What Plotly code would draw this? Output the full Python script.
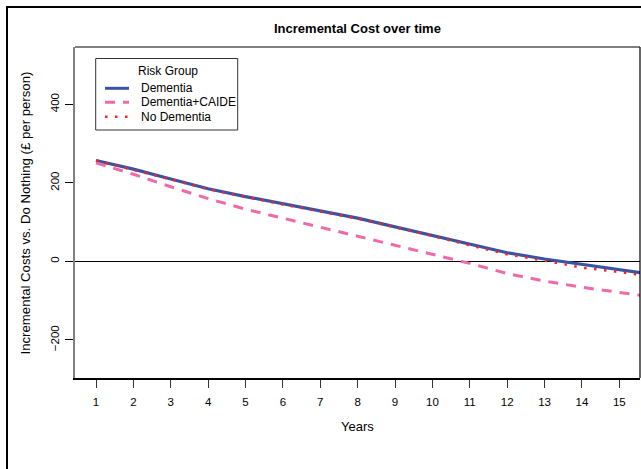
import plotly.graph_objects as go

# ---- data ----
years = [1, 2, 3, 4, 5, 6, 7, 8, 9, 10, 11, 12, 13, 14, 15, 16]
dementia = [257, 235, 210, 185, 165, 146, 128, 110, 88, 66, 43, 22, 6, -8, -20, -35]
dementia_caide = [251, 222, 190, 160, 133, 110, 86, 63, 40, 18, -5, -31, -50, -66, -78, -92]
no_dementia = [257, 234, 209, 184, 164, 145, 127, 109, 87, 65, 41, 18, 2, -16, -27, -40]
x_ticks = list(range(1, 16))
y_ticks = [-200, 0, 200, 400]

series_names = ["Dementia", "Dementia+CAIDE", "No Dementia"]
colors = ["#3a54a4", "#f06aaa", "#ff2020"]

FONT = "Liberation Sans, Arial, Helvetica, sans-serif"

# layout geometry (pixels)
W, H = 641, 469
L, R, T, B = 75, 640, 47, 378


def px(x):
    return (x - L) / (R - L)


def py(y):
    return (B - y) / (B - T)


fig = go.Figure()
fig.add_trace(go.Scatter(x=years, y=dementia, mode="lines", name=series_names[0],
                         line=dict(color=colors[0], width=3.2), showlegend=False))
fig.add_trace(go.Scatter(x=years, y=dementia_caide, mode="lines", name=series_names[1],
                         line=dict(color=colors[1], width=3, dash="10px,8px"), showlegend=False))
fig.add_trace(go.Scatter(x=years, y=no_dementia, mode="lines", name=series_names[2],
                         line=dict(color=colors[2], width=2.5, dash="2.5px,7.5px"), showlegend=False))

shapes = []
# outer figure border
shapes.append(dict(type="rect", xref="paper", yref="paper",
                   x0=px(7), x1=px(650), y0=py(480), y1=py(7),
                   line=dict(color="black", width=2), layer="above"))
# top (grey) and right (black) frame edges
shapes.append(dict(type="line", xref="paper", yref="paper", x0=0, x1=1, y0=1, y1=1,
                   line=dict(color="#808080", width=2)))
shapes.append(dict(type="line", xref="paper", yref="paper", x0=1, x1=1, y0=0, y1=1,
                   line=dict(color="black", width=1.2)))
# legend box
shapes.append(dict(type="rect", xref="paper", yref="paper",
                   x0=px(95.7), x1=px(237.7), y0=py(130), y1=py(58.5),
                   line=dict(color="#333333", width=1), fillcolor="white", layer="above"))
leg_y = [88.3, 102.3, 116.7]
leg_dash = ["solid", "10px,8px", "2.5px,7.5px"]
leg_w = [3, 3, 2.5]
annotations = []
for i in range(3):
    shapes.append(dict(type="line", xref="paper", yref="paper",
                       x0=px(105), x1=px(129), y0=py(leg_y[i]), y1=py(leg_y[i]),
                       line=dict(color=colors[i], width=leg_w[i], dash=leg_dash[i]),
                       layer="above"))
    annotations.append(dict(text=series_names[i], xref="paper", yref="paper",
                            x=px(139), y=py(leg_y[i]), xanchor="left", yanchor="middle",
                            showarrow=False, font=dict(family=FONT, size=12, color="black")))
annotations.append(dict(text="Risk Group", xref="paper", yref="paper",
                        x=px(168), y=py(70.7), xanchor="center", yanchor="middle",
                        showarrow=False, font=dict(family=FONT, size=12, color="black")))
# titles
annotations.append(dict(text="<b>Incremental Cost over time</b>", xref="paper", yref="paper",
                        x=px(357.5), y=py(28.3), xanchor="center", yanchor="middle",
                        showarrow=False, font=dict(family=FONT, size=13, color="black")))
annotations.append(dict(text="Years", xref="paper", yref="paper",
                        x=px(357.5), y=py(426.5), xanchor="center", yanchor="middle",
                        showarrow=False, font=dict(family=FONT, size=13, color="black")))
annotations.append(dict(text="Incremental Costs vs. Do Nothing (£ per person)",
                        xref="paper", yref="paper", textangle=-90,
                        x=px(24.5), y=py(213), xanchor="center", yanchor="middle",
                        showarrow=False, font=dict(family=FONT, size=13.2, color="black")))

fig.update_layout(
    width=W, height=H,
    margin=dict(l=L, r=W - R, t=T, b=H - B, pad=0),
    paper_bgcolor="white", plot_bgcolor="white",
    shapes=shapes, annotations=annotations,
    font=dict(family=FONT, size=12, color="black"),
    xaxis=dict(range=[0.438, 15.554], tickmode="array", tickvals=x_ticks,
               ticktext=[str(v) for v in x_ticks],
               ticks="outside", ticklen=8, tickwidth=1, tickcolor="#333333",
               ticklabelstandoff=4,
               showline=True, linecolor="black", linewidth=1.5,
               showgrid=False, zeroline=False, tickfont=dict(size=11.5)),
    yaxis=dict(range=[-297, 546], tickmode="array", tickvals=y_ticks,
               ticks="outside", ticklen=8, tickwidth=1, tickcolor="black",
               tickangle=-90, ticklabelstandoff=1,
               showline=True, linecolor="#808080", linewidth=2,
               showgrid=False, zeroline=True, zerolinecolor="black", zerolinewidth=1,
               tickfont=dict(size=11.5)),
)

fig.write_html("out.html", config={"displayModeBar": False},
               post_script="document.body.style.margin='0';document.body.style.overflow='hidden';")
